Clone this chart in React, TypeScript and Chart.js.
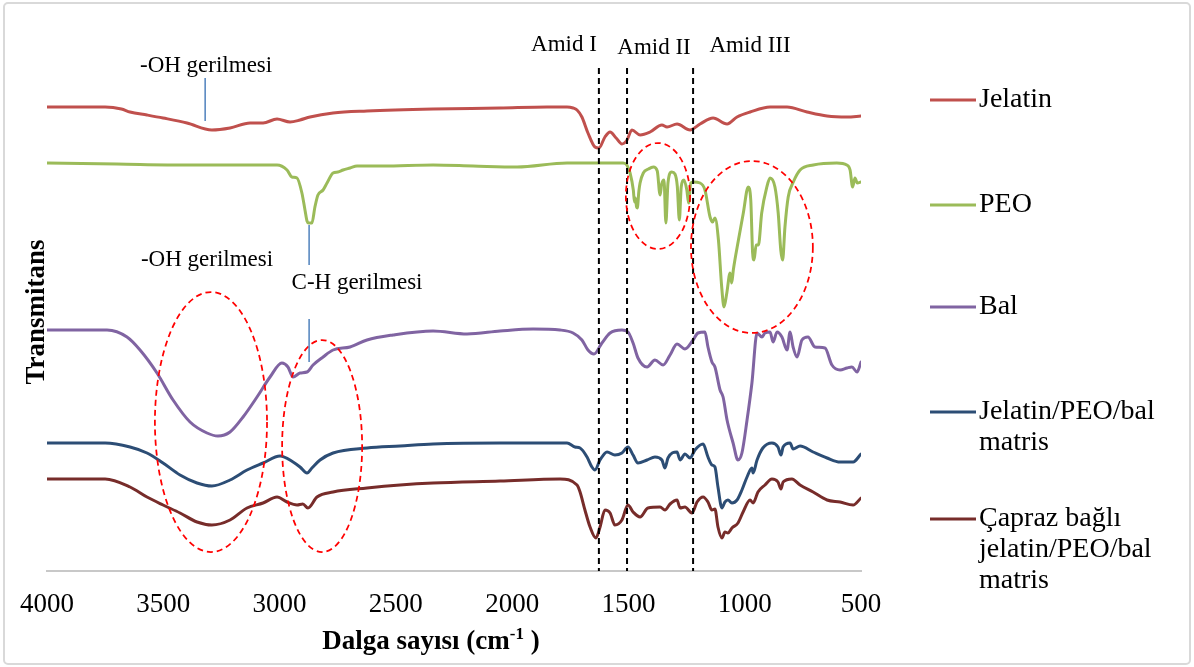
import React, { useEffect, useRef } from "react";
import { Chart, registerables } from "chart.js";

Chart.register(...registerables);

// ---- Data (wavenumber cm-1, transmittance in arbitrary offset units) ----
const jelatin: [number, number][] = [
  [4000, 464], [3750, 464], [3680, 462], [3643, 459], [3570, 456], [3501, 453], [3398, 448],
  [3291, 441], [3213, 443], [3127, 448], [3071, 448], [3011, 452], [2955, 449], [2912, 451],
  [2869, 454], [2770, 458], [2624, 460], [2340, 462], [2052, 463], [1850, 464], [1764, 464],
  [1738, 463], [1721, 461], [1700, 454], [1674, 438], [1644, 424], [1627, 423], [1601, 434],
  [1579, 439], [1553, 433], [1528, 427], [1506, 431], [1485, 441], [1450, 436], [1407, 439],
  [1356, 446], [1334, 444], [1291, 447], [1235, 441], [1192, 447], [1136, 453], [1076, 447],
  [1033, 454], [977, 459], [891, 464], [818, 464], [732, 459], [646, 455], [560, 454], [500, 455],
];

const peo: [number, number][] = [
  [4000, 408], [3700, 407], [3400, 406], [3100, 406], [3011, 406], [2968, 401], [2947, 394],
  [2925, 393], [2904, 378], [2890, 360], [2882, 350], [2875, 348], [2861, 348], [2848, 364],
  [2835, 376], [2813, 381], [2796, 388], [2770, 398], [2749, 399], [2727, 401], [2697, 403],
  [2667, 405], [2555, 405], [2340, 406], [2168, 405], [1979, 404], [1764, 408], [1523, 408],
  [1507, 406], [1493, 398], [1479, 381], [1474, 369], [1470, 373], [1465, 364], [1462, 363],
  [1455, 380], [1450, 388], [1436, 398], [1414, 402], [1393, 404], [1376, 400], [1364, 376],
  [1357, 387], [1347, 391], [1339, 348], [1330, 388], [1314, 399], [1300, 397], [1290, 385],
  [1281, 351], [1273, 384], [1261, 391], [1249, 381], [1241, 368], [1232, 388], [1221, 389],
  [1192, 388], [1171, 381], [1149, 354], [1138, 349], [1128, 353], [1113, 331], [1099, 284],
  [1089, 264], [1077, 278], [1063, 298], [1056, 288], [1049, 301], [1027, 331], [1006, 358],
  [985, 384], [974, 371], [966, 318], [960, 311], [951, 326], [941, 326], [927, 358],
  [905, 384], [891, 393], [870, 384], [856, 358], [845, 321], [837, 311], [827, 344],
  [813, 374], [791, 389], [762, 401], [705, 406], [604, 408], [561, 406], [547, 401],
  [536, 384], [526, 393], [516, 388], [500, 389],
];

const bal: [number, number][] = [
  [4000, 241], [3742, 241], [3656, 234], [3600, 221], [3527, 198], [3458, 171], [3385, 149],
  [3312, 138], [3265, 135], [3213, 139], [3157, 154], [3097, 174], [3041, 194], [2990, 208],
  [2964, 204], [2942, 194], [2912, 198], [2882, 199], [2856, 206], [2813, 214], [2770, 221],
  [2697, 224], [2624, 231], [2512, 236], [2340, 240], [2194, 237], [2052, 240], [1910, 242],
  [1794, 241], [1738, 238], [1700, 231], [1674, 221], [1648, 217], [1614, 228], [1579, 238],
  [1528, 241], [1502, 239], [1480, 228], [1459, 213], [1420, 204], [1386, 211], [1351, 206],
  [1321, 216], [1291, 227], [1257, 222], [1222, 231], [1201, 238], [1171, 239], [1158, 224],
  [1141, 209], [1128, 204], [1106, 181], [1093, 174], [1076, 151], [1050, 128], [1029, 111],
  [1012, 118], [990, 151], [969, 188], [947, 238], [926, 234], [913, 238], [891, 239],
  [878, 229], [861, 239], [840, 234], [818, 221], [805, 239], [792, 224], [775, 214],
  [754, 231], [728, 234], [698, 224], [655, 223], [625, 206], [590, 201], [560, 203],
  [539, 204], [517, 199], [500, 209],
];

const matris: [number, number][] = [
  [4000, 128], [3750, 128], [3643, 124], [3570, 118], [3501, 108], [3428, 96], [3355, 88],
  [3291, 85], [3213, 91], [3140, 101], [3071, 108], [2998, 115], [2942, 109], [2912, 104],
  [2882, 98], [2861, 103], [2826, 111], [2770, 118], [2624, 123], [2482, 125], [2340, 127],
  [2052, 128], [1764, 128], [1730, 124], [1708, 123], [1678, 114], [1657, 104], [1644, 101],
  [1622, 111], [1592, 119], [1558, 116], [1528, 118], [1502, 124], [1480, 116], [1459, 108],
  [1420, 111], [1386, 114], [1356, 111], [1343, 103], [1330, 113], [1291, 119], [1278, 111],
  [1257, 117], [1235, 113], [1214, 121], [1179, 127], [1158, 114], [1141, 106], [1128, 104],
  [1115, 84], [1098, 63], [1085, 69], [1072, 71], [1055, 68], [1033, 71], [1012, 81],
  [990, 94], [969, 103], [964, 98], [947, 111], [922, 123], [883, 128], [857, 124],
  [844, 116], [835, 124], [805, 128], [792, 122], [762, 125], [706, 119], [646, 113],
  [590, 109], [534, 109], [500, 117],
];

const capraz: [number, number][] = [
  [4000, 92], [3750, 92], [3643, 84], [3570, 74], [3501, 66], [3428, 58], [3355, 49],
  [3291, 46], [3213, 51], [3140, 63], [3071, 68], [3011, 74], [2968, 69], [2925, 66],
  [2900, 67], [2878, 63], [2839, 74], [2770, 79], [2624, 83], [2482, 86], [2340, 88],
  [2052, 90], [1794, 92], [1721, 86], [1708, 79], [1687, 61], [1665, 44], [1640, 33],
  [1622, 44], [1601, 61], [1579, 58], [1558, 46], [1528, 51], [1502, 66], [1480, 59],
  [1450, 54], [1416, 63], [1364, 64], [1343, 61], [1321, 67], [1291, 71], [1278, 63],
  [1257, 64], [1227, 58], [1205, 69], [1179, 74], [1158, 69], [1141, 61], [1128, 62],
  [1115, 44], [1098, 33], [1085, 39], [1072, 38], [1055, 43], [1029, 48], [1007, 59],
  [977, 71], [964, 68], [943, 79], [913, 86], [883, 92], [857, 89], [844, 82], [835, 89],
  [797, 92], [762, 86], [706, 79], [646, 71], [590, 69], [534, 66], [500, 73],
];

const seriesLabels: string[][] = [
  ["Jelatin"],
  ["PEO"],
  ["Bal"],
  ["Jelatin/PEO/bal", "matris"],
  ["Çapraz bağlı", "jelatin/PEO/bal", "matris"],
];
const seriesColors = ["#C0504D", "#9BBB59", "#8064A2", "#2C4D75", "#772C2A"];
const seriesData = [jelatin, peo, bal, matris, capraz];

const xTicksMin = 500;
const xTicksMax = 4000;
const xTickStep = 500;

// Annotations (data coordinates)
const amideLines = [1627, 1506, 1222];
const amideTop = 503;
const peakMarkers = [
  { x: 3320, y1: 493, y2: 450 },
  { x: 2873, y1: 346, y2: 306 },
  { x: 2873, y1: 252, y2: 209 },
];
const textLabels = [
  { text: "-OH gerilmesi", x: 3316, y: 505 },
  { text: "-OH gerilmesi", x: 3312, y: 311 },
  { text: "C-H gerilmesi", x: 2667, y: 288 },
  { text: "Amid I", x: 1777, y: 526 },
  { text: "Amid II", x: 1390, y: 523 },
  { text: "Amid III", x: 977, y: 525 },
];
const ellipses = [
  { cx: 3295, cy: 149, rx: 241, ry: 130 },
  { cx: 2817, cy: 125, rx: 172, ry: 106 },
  { cx: 1373, cy: 375, rx: 138, ry: 53 },
  { cx: 969, cy: 324, rx: 262, ry: 86 },
];

const SERIF = "'Liberation Serif', 'Times New Roman', serif";

const decorPlugin = {
  id: "decor",
  beforeDraw(chart: any) {
    const ctx = chart.ctx;
    ctx.save();
    ctx.fillStyle = "#ffffff";
    ctx.fillRect(0, 0, chart.width, chart.height);
    ctx.strokeStyle = "#D9D9D9";
    ctx.lineWidth = 2;
    const r = 4;
    const x0 = 4, y0 = 3, x1 = 1190, y1 = 664;
    ctx.beginPath();
    ctx.moveTo(x0 + r, y0);
    ctx.lineTo(x1 - r, y0);
    ctx.arcTo(x1, y0, x1, y0 + r, r);
    ctx.lineTo(x1, y1 - r);
    ctx.arcTo(x1, y1, x1 - r, y1, r);
    ctx.lineTo(x0 + r, y1);
    ctx.arcTo(x0, y1, x0, y1 - r, r);
    ctx.lineTo(x0, y0 + r);
    ctx.arcTo(x0, y0, x0 + r, y0, r);
    ctx.stroke();
    ctx.restore();
  },
  afterDatasetsDraw(chart: any) {
    const ctx = chart.ctx;
    const xs = chart.scales.x;
    const ys = chart.scales.y;
    ctx.save();
    // amide dashed lines
    ctx.strokeStyle = "#000000";
    ctx.lineWidth = 2;
    ctx.setLineDash([6, 4]);
    amideLines.forEach((w) => {
      const px = xs.getPixelForValue(w);
      ctx.beginPath();
      ctx.moveTo(px, ys.getPixelForValue(amideTop));
      ctx.lineTo(px, ys.getPixelForValue(0));
      ctx.stroke();
    });
    // ellipses
    ctx.strokeStyle = "#FF0000";
    ctx.lineWidth = 1.75;
    ctx.setLineDash([6, 4]);
    ellipses.forEach((e) => {
      const cx = xs.getPixelForValue(e.cx);
      const cy = ys.getPixelForValue(e.cy);
      const rx = Math.abs(xs.getPixelForValue(e.cx + e.rx) - cx);
      const ry = Math.abs(ys.getPixelForValue(e.cy + e.ry) - cy);
      ctx.beginPath();
      ctx.ellipse(cx, cy, rx, ry, 0, 0, Math.PI * 2);
      ctx.stroke();
    });
    // peak markers
    ctx.setLineDash([]);
    ctx.strokeStyle = "#4F81BD";
    ctx.lineWidth = 1.5;
    peakMarkers.forEach((m) => {
      const px = xs.getPixelForValue(m.x);
      ctx.beginPath();
      ctx.moveTo(px, ys.getPixelForValue(m.y1));
      ctx.lineTo(px, ys.getPixelForValue(m.y2));
      ctx.stroke();
    });
    // text labels
    ctx.fillStyle = "#000000";
    ctx.font = `23px ${SERIF}`;
    ctx.textAlign = "center";
    ctx.textBaseline = "middle";
    textLabels.forEach((t) => {
      ctx.fillText(t.text, xs.getPixelForValue(t.x), ys.getPixelForValue(t.y));
    });
    ctx.restore();
  },
  afterDraw(chart: any) {
    const ctx = chart.ctx;
    ctx.save();
    // Legend
    const legendY = [100, 205, 307, 412, 519];
    const lineH = 31;
    ctx.textAlign = "left";
    ctx.textBaseline = "middle";
    ctx.font = `28px ${SERIF}`;
    chart.data.datasets.forEach((ds: any, i: number) => {
      const y = legendY[i];
      ctx.strokeStyle = ds.borderColor;
      ctx.lineWidth = 3;
      ctx.beginPath();
      ctx.moveTo(930, y);
      ctx.lineTo(976, y);
      ctx.stroke();
      ctx.fillStyle = "#000000";
      seriesLabels[i].forEach((ln, k) => ctx.fillText(ln, 979, y + k * lineH));
    });
    // X axis title with superscript
    ctx.fillStyle = "#000000";
    ctx.textBaseline = "alphabetic";
    const main = "Dalga sayısı (cm";
    const sup = "-1";
    const tail = " )";
    ctx.font = `bold 27px ${SERIF}`;
    const wMain = ctx.measureText(main).width;
    const wTail = ctx.measureText(tail).width;
    ctx.font = `bold 17px ${SERIF}`;
    const wSup = ctx.measureText(sup).width;
    const total = wMain + wSup + wTail;
    let x = 431 - total / 2;
    const base = 649;
    ctx.font = `bold 27px ${SERIF}`;
    ctx.fillText(main, x, base);
    x += wMain;
    ctx.font = `bold 17px ${SERIF}`;
    ctx.fillText(sup, x, base - 10);
    x += wSup;
    ctx.font = `bold 27px ${SERIF}`;
    ctx.fillText(tail, x, base);
    // Y axis title
    ctx.translate(37, 312);
    ctx.rotate(-Math.PI / 2);
    ctx.textAlign = "center";
    ctx.textBaseline = "middle";
    ctx.font = `bold 27px ${SERIF}`;
    ctx.fillText("Transmitans", 0, 0);
    ctx.restore();
  },
};

export default function App() {
  const canvasRef = useRef<HTMLCanvasElement | null>(null);

  useEffect(() => {
    if (!canvasRef.current) return;
    const chart = new Chart(canvasRef.current, {
      type: "line",
      data: {
        datasets: seriesData.map((d, i) => ({
          label: seriesLabels[i].join(" "),
          data: d.map(([x, y]) => ({ x, y })),
          borderColor: seriesColors[i],
          backgroundColor: seriesColors[i],
          borderWidth: 3,
          pointRadius: 0,
          fill: false,
          cubicInterpolationMode: "monotone",
          borderJoinStyle: "round",
          borderCapStyle: "round",
        })),
      },
      options: {
        animation: false,
        responsive: false,
        maintainAspectRatio: false,
        devicePixelRatio: 1,
        layout: { padding: { left: 47, right: 333, top: 30, bottom: 0 } },
        plugins: {
          legend: { display: false },
          tooltip: { enabled: false },
        },
        scales: {
          x: {
            type: "linear",
            reverse: true,
            min: xTicksMin,
            max: xTicksMax,
            ticks: {
              stepSize: xTickStep,
              autoSkip: false,
              maxRotation: 0,
              color: "#000000",
              font: { family: SERIF, size: 27 },
              padding: 18,
              callback: (v: any) => String(v),
            },
            grid: { display: false, drawTicks: false },
            border: { display: true, color: "#C8C8C8", width: 2 },
            afterFit: (s: any) => {
              s.height = 96;
            },
          },
          y: { display: false, min: 0, max: 541 },
        },
      },
      plugins: [decorPlugin],
    } as any);
    return () => chart.destroy();
  }, []);

  return (
    <div style={{ position: "absolute", left: 0, top: 0, width: 1194, height: 667 }}>
      <canvas ref={canvasRef} width={1194} height={667} />
    </div>
  );
}
